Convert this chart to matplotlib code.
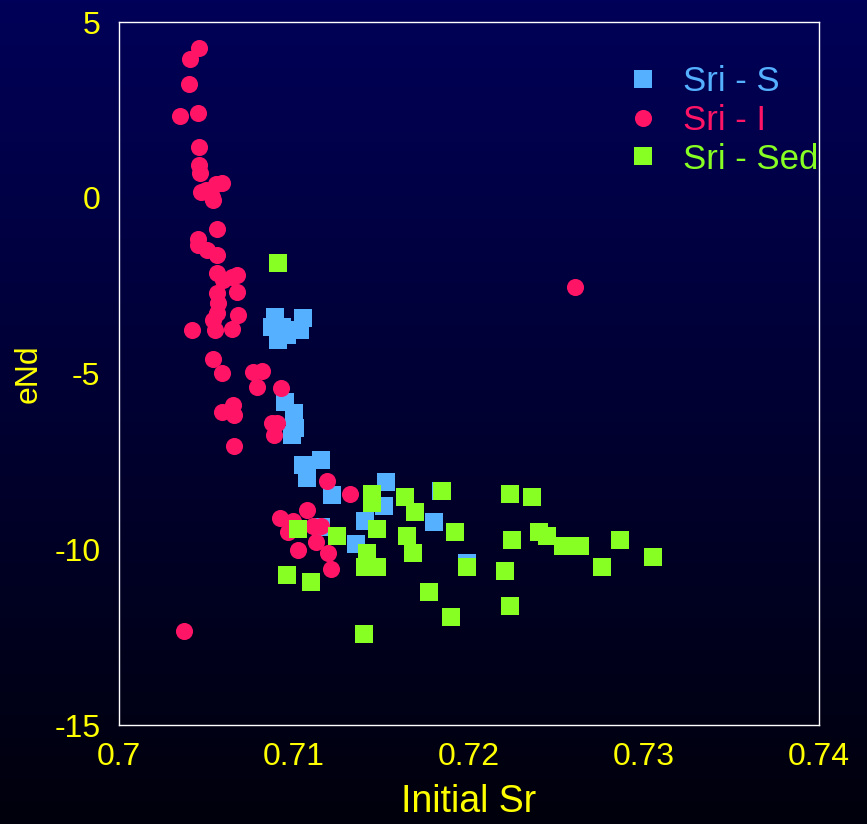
import numpy as np
import matplotlib.pyplot as plt
from matplotlib.colors import LinearSegmentedColormap

plt.rcParams['font.family'] = ['Liberation Sans', 'DejaVu Sans']
plt.rcParams['axes.unicode_minus'] = False

# Sri - S (blue squares)
s_x = [0.70894, 0.70877, 0.70934, 0.70911, 0.71054, 0.71037, 0.70963, 0.70951,
       0.71003, 0.71009, 0.70991, 0.71054, 0.71157, 0.71077, 0.71220, 0.71529,
       0.71517, 0.71409, 0.71357, 0.71157, 0.71843, 0.71803, 0.71991]
s_y = [-3.39, -3.67, -3.67, -4.06, -3.42, -3.76, -3.90, -5.81,
       -6.12, -6.55, -6.75, -7.60, -7.46, -7.97, -8.45, -8.09,
       -8.77, -9.20, -9.85, -9.37, -8.34, -9.22, -10.39]

# Sri - I (red circles)
i_x = [0.70460, 0.70409, 0.70403, 0.70351, 0.70454, 0.70460, 0.70460, 0.70466,
       0.70471, 0.70534, 0.70591, 0.70557, 0.70540, 0.70500, 0.70563, 0.70454,
       0.70454, 0.70506, 0.70563, 0.70563, 0.70597, 0.70677, 0.70649, 0.70677,
       0.70563, 0.70569, 0.70563, 0.70683, 0.70540, 0.70551, 0.70649, 0.70420,
       0.70540, 0.70591, 0.70769, 0.70820, 0.70791, 0.70929, 0.70591, 0.70654,
       0.70660, 0.70877, 0.70906, 0.70889, 0.70660, 0.71191, 0.71323, 0.71077,
       0.70923, 0.70997, 0.70969, 0.71111, 0.71157, 0.71129, 0.71026, 0.71197,
       0.71214, 0.70374, 0.72609]
i_y = [4.26, 3.95, 3.24, 2.33, 2.41, 1.44, 0.94, 0.70,
       0.16, 0.02, 0.42, 0.39, -0.06, 0.22, -0.89, -1.17,
       -1.34, -1.49, -1.63, -2.14, -2.34, -2.20, -2.25, -2.68,
       -2.71, -2.99, -3.28, -3.33, -3.48, -3.77, -3.72, -3.77,
       -4.60, -4.98, -4.96, -4.93, -5.38, -5.41, -6.09, -5.90,
       -6.18, -6.41, -6.41, -6.75, -7.06, -8.06, -8.43, -8.88,
       -9.11, -9.20, -9.51, -9.34, -9.34, -9.79, -10.02, -10.11,
       -10.56, -12.33, -2.54]

# Sri - Sed (green squares)
sed_x = [0.70911, 0.71026, 0.71249, 0.71449, 0.71449, 0.71477, 0.71420, 0.71477,
         0.71409, 0.70963, 0.71100, 0.71637, 0.71694, 0.71649, 0.71683, 0.71849,
         0.71923, 0.71991, 0.71774, 0.71900, 0.71403, 0.72237, 0.72363, 0.72249,
         0.72403, 0.72449, 0.72540, 0.72637, 0.72866, 0.73054, 0.72763, 0.72209,
         0.72237]
sed_y = [-1.86, -9.43, -9.62, -8.43, -8.69, -9.43, -10.11, -10.51,
         -10.51, -10.73, -10.93, -8.51, -8.94, -9.62, -10.11, -8.34,
         -9.51, -10.51, -11.22, -11.93, -12.41, -8.43, -8.51, -9.74,
         -9.51, -9.62, -9.91, -9.91, -9.74, -10.22, -10.51, -10.62,
         -11.62]

blue = '#55b0ff'
red = '#ff1466'
green = '#88ff22'
yellow = '#ffff00'

fig = plt.figure(figsize=(8.67, 8.24), dpi=100)

# dark navy gradient background
bg = fig.add_axes([0, 0, 1, 1], zorder=-1)
cmap = LinearSegmentedColormap.from_list('bg', ['#000058', '#00000c'])
bg.imshow(np.linspace(0, 1, 256).reshape(-1, 1), cmap=cmap, aspect='auto',
          extent=[0, 1, 0, 1])
bg.axis('off')

ax = fig.add_axes([0.1367, 0.1201, 0.8075, 0.8532])
ax.set_facecolor('none')

l_s, = ax.plot(s_x, s_y, 's', color=blue, ms=12.3, mew=0, label='Sri - S')
l_i, = ax.plot(i_x, i_y, 'o', color=red, ms=12.3, mew=0, label='Sri - I')
l_sed, = ax.plot(sed_x, sed_y, 's', color=green, ms=12.3, mew=0, label='Sri - Sed')

ax.set_xlim(0.70, 0.74)
ax.set_ylim(-15, 5)
ax.set_xticks([0.70, 0.71, 0.72, 0.73, 0.74])
ax.set_xticklabels(['0.7', '0.71', '0.72', '0.73', '0.74'])
ax.set_yticks([-15, -10, -5, 0, 5])
ax.tick_params(length=0, labelsize=23, colors=yellow)
ax.tick_params(axis='x', pad=12)
ax.tick_params(axis='y', pad=13)
for sp in ax.spines.values():
    sp.set_color('white')
    sp.set_linewidth(1.0)

ax.set_xlabel('Initial Sr', color=yellow, fontsize=27, labelpad=9)
ax.set_ylabel('eNd', color=yellow, fontsize=23, labelpad=8)

leg = ax.legend(handles=[l_s, l_i, l_sed], loc='upper right', frameon=False,
                fontsize=25, labelcolor='linecolor', handlelength=0.9,
                handletextpad=0.7, labelspacing=0.16, borderaxespad=0,
                bbox_to_anchor=(1.02, 0.958), markerscale=1.0)

fig.savefig('out.png', dpi=100)
